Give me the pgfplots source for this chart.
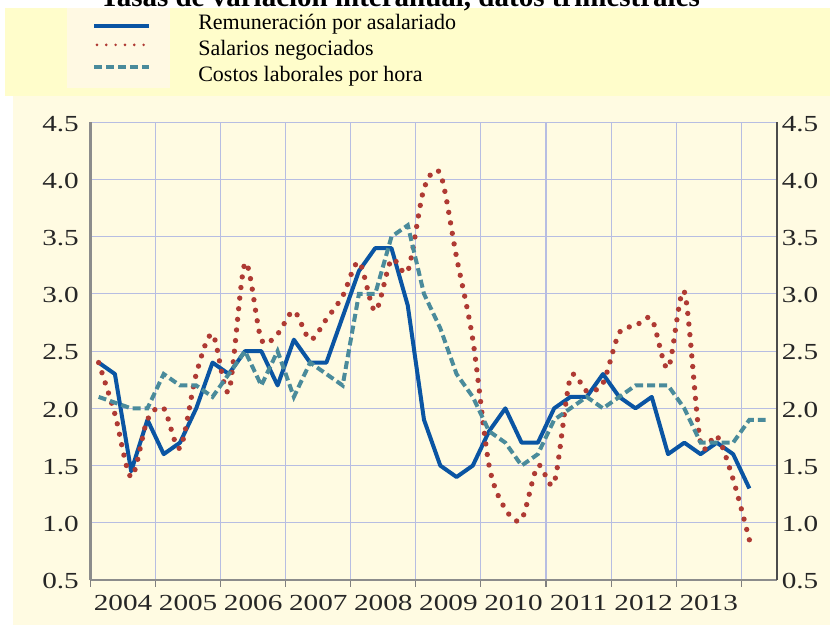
\documentclass[border=0pt]{standalone}
\usepackage{pgfplots}
\pgfplotsset{compat=1.18}
\usepackage{fontspec}
\setmainfont{Liberation Serif}
\newfontfamily\tickfont[FakeStretch=1.27]{Liberation Serif}

\definecolor{remblue}{HTML}{0A55A3}
\definecolor{salred}{HTML}{AF3A33}
\definecolor{costteal}{HTML}{4A8B9B}
\definecolor{gridc}{HTML}{B7BDE2}
\definecolor{legbg}{HTML}{FFFDCB}
\definecolor{chartbg}{HTML}{FFFBE2}
\definecolor{boxbg}{HTML}{FFF9E3}

% legend samples, one per series (heights set by eye)
\pgfplotsset{
  legimg blue/.style={legend image code/.code={\draw[##1] (0pt,-1.5pt) -- (41.25pt,-1.5pt);}},
  legimg red/.style={legend image code/.code={\draw[##1, line width=2.2pt, dash pattern=on 0pt off 7pt] (2pt,3.75pt) -- (41.25pt,3.75pt);}},
  legimg teal/.style={legend image code/.code={\draw[##1] (0pt,6.75pt) -- (41.25pt,6.75pt);}},
}

\begin{document}
\begin{tikzpicture}[x=0.75pt,y=0.75pt]
% page is 830 x 625 px, 1px = 0.75pt
\useasboundingbox (0,0) rectangle (830,625);
\clip (0,0) rectangle (830,625);
\fill[legbg] (5,529) rectangle (830,617);
\fill[boxbg] (67,537) rectangle (170,617);
\fill[chartbg] (13,0) rectangle (830,529);
\node[font=\fontsize{21.75}{24}\selectfont\bfseries, anchor=base, inner sep=0pt]
  at (400,618) {Tasas de variación interanual, datos trimestrales};

% quarters: x = k + 0.5, k = 0 is 2004 Q1
\begin{axis}[
    at={(67.875pt,33.75pt)}, anchor=south west,
    scale only axis, width=514.9pt, height=343.3pt,
    xmin=0, xmax=42.2, ymin=0.5, ymax=4.5,
    axis x line*=bottom, axis y line*=left,
    axis line style={-},
    x axis line style={color=black!45, line width=0.8pt},
    y axis line style={color=black!45, line width=1.6pt},
    xtick={2,6,...,38},
    xticklabels={2004,2005,2006,2007,2008,2009,2010,2011,2012,2013},
    minor xtick={0,4,...,40},
    ytick={0.5,1.0,1.5,2.0,2.5,3.0,3.5,4.0,4.5},
    tick align=outside,
    major tick length=0pt, minor tick length=5pt,
    minor tick style={color=black!50, line width=0.8pt},
    xminorgrids=true, ymajorgrids=true,
    major grid style={gridc, line width=0.8pt},
    minor grid style={gridc, line width=0.8pt},
    ticklabel style={font=\fontsize{17.25}{18}\tickfont, text=black!85},
    yticklabel style={xshift=-5.25pt, yshift=-1pt},
    xticklabel style={yshift=-8pt},
    /pgf/number format/.cd, fixed, fixed zerofill, precision=1, assume math mode=true,
    /pgfplots/.cd,
    legend style={at={(axis description cs:0.0022,1.2388)}, anchor=north west,
        draw=none, fill=none, inner sep=0pt,
        font=\fontsize{16.5}{19.5}\selectfont,
        row sep=3.5pt,
        nodes={inner sep=0pt, text height=12pt, text depth=4pt},
        /tikz/every odd column/.style={column sep=35.25pt}},
    legend cell align=left,
]
\addplot[remblue, line width=3pt, line join=round, legimg blue] coordinates {
(0.5,2.4) (1.5,2.3) (2.5,1.45) (3.5,1.9) (4.5,1.6) (5.5,1.7) (6.5,2.0) (7.5,2.4)
(8.5,2.3) (9.5,2.5) (10.5,2.5) (11.5,2.2) (12.5,2.6) (13.5,2.4) (14.5,2.4) (15.5,2.8)
(16.5,3.2) (17.5,3.4) (18.5,3.4) (19.5,2.9) (20.5,1.9) (21.5,1.5) (22.5,1.4) (23.5,1.5)
(24.5,1.8) (25.5,2.0) (26.5,1.7) (27.5,1.7) (28.5,2.0) (29.5,2.1) (30.5,2.1) (31.5,2.3)
(32.5,2.1) (33.5,2.0) (34.5,2.1) (35.5,1.6) (36.5,1.7) (37.5,1.6) (38.5,1.7) (39.5,1.6)
(40.5,1.3)
};
\addlegendentry{Remuneración por asalariado}
\addplot[salred, line width=4pt, line cap=round, dash pattern=on 0pt off 8pt,
    smooth, tension=0.5, legimg red] coordinates {
(0.5,2.4) (1.5,1.95) (2.5,1.4) (3.5,1.9) (4.5,2.0) (5.5,1.65) (6.5,2.3) (7.5,2.65)
(8.5,2.15) (9.5,3.27) (10.5,2.6) (11.5,2.65) (12.5,2.85) (13.5,2.6) (14.5,2.78) (15.5,2.98)
(16.5,3.28) (17.5,2.85) (18.5,3.3) (19.5,3.2) (20.5,3.92) (21.5,4.05) (22.5,3.32) (23.5,2.6)
(24.5,1.5) (25.5,1.12) (26.5,1.03) (27.5,1.5) (28.5,1.35) (29.5,2.27) (30.5,2.15) (31.5,2.22)
(32.5,2.66) (33.5,2.72) (34.5,2.78) (35.5,2.35) (36.5,3.02) (37.5,1.7) (38.5,1.76) (39.5,1.38)
(40.5,0.85)
};
\addlegendentry{Salarios negociados}
\addplot[costteal, line width=3pt, dash pattern=on 6pt off 3pt, legimg teal] coordinates {
(0.5,2.1) (1.5,2.05) (2.5,2.0) (3.5,2.0) (4.5,2.3) (5.5,2.2) (6.5,2.2) (7.5,2.1)
(8.5,2.3) (9.5,2.5) (10.5,2.2) (11.5,2.5) (12.5,2.1) (13.5,2.4) (14.5,2.3) (15.5,2.2)
(16.5,3.0) (17.5,3.0) (18.5,3.5) (19.5,3.6) (20.5,3.0) (21.5,2.7) (22.5,2.3) (23.5,2.1)
(24.5,1.8) (25.5,1.7) (26.5,1.5) (27.5,1.6) (28.5,1.9) (29.5,2.0) (30.5,2.1) (31.5,2.0)
(32.5,2.1) (33.5,2.2) (34.5,2.2) (35.5,2.2) (36.5,2.0) (37.5,1.7) (38.5,1.7) (39.5,1.7)
(40.5,1.9) (41.5,1.9)
};
\addlegendentry{Costos laborales por hora}
\end{axis}

% right-hand scale
\begin{axis}[
    at={(67.875pt,33.75pt)}, anchor=south west,
    scale only axis, width=514.9pt, height=343.3pt,
    xmin=0, xmax=42.2, ymin=0.5, ymax=4.5,
    axis x line=none, axis y line*=right,
    axis line style={-},
    y axis line style={color=black!70, line width=1.1pt},
    ytick={0.5,1.0,1.5,2.0,2.5,3.0,3.5,4.0,4.5},
    major tick length=0pt,
    yticklabel style={font=\fontsize{17.25}{18}\tickfont, text=black!85, yshift=-1pt},
    /pgf/number format/.cd, fixed, fixed zerofill, precision=1, assume math mode=true,
]
\end{axis}
\end{tikzpicture}
\end{document}
